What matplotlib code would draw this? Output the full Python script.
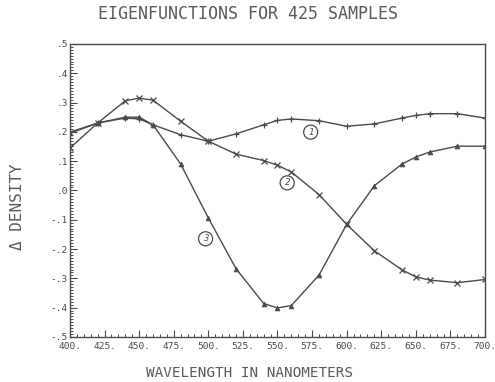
import matplotlib
matplotlib.use("Agg")
import matplotlib.pyplot as plt
from matplotlib.ticker import MultipleLocator, FixedLocator

wavelength = [400, 420, 440, 450, 460, 480, 500, 520, 540, 550, 560,
              580, 600, 620, 640, 650, 660, 680, 700]
eig1 = [0.199, 0.230, 0.247, 0.244, 0.224, 0.190, 0.168, 0.193, 0.224, 0.239,
        0.244, 0.238, 0.219, 0.227, 0.247, 0.256, 0.262, 0.262, 0.247]
eig2 = [0.145, 0.230, 0.306, 0.315, 0.308, 0.236, 0.168, 0.124, 0.102, 0.086,
        0.063, -0.014, -0.116, -0.206, -0.271, -0.295, -0.306, -0.315, -0.304]
eig3 = [0.195, 0.230, 0.250, 0.250, 0.224, 0.090, -0.094, -0.267, -0.386, -0.401,
        -0.393, -0.289, -0.116, 0.016, 0.090, 0.114, 0.131, 0.151, 0.151]

xticks = [400, 425, 450, 475, 500, 525, 550, 575, 600, 625, 650, 675, 700]
xticklabels = ["400.", "425.", "450.", "475.", "500.", "525.", "550.", "575.",
               "600.", "625.", "650.", "675.", "700."]
yticks = [-0.5, -0.4, -0.3, -0.2, -0.1, 0.0, 0.1, 0.2, 0.3, 0.4, 0.5]
yticklabels = ["-.5", "-.4", "-.3", "-.2", "-.1", ".0", ".1", ".2", ".3", ".4", ".5"]

title = "EIGENFUNCTIONS FOR 425 SAMPLES"
xlabel = "WAVELENGTH IN NANOMETERS"
ylabel = "Δ DENSITY"
curve_labels = ["1", "2", "3"]
label_pos = [(574, 0.199), (557, 0.026), (498, -0.165)]

C = "#4a4a4a"
FONT = "DejaVu Sans Mono"

fig = plt.figure(figsize=(4.95, 3.82), dpi=100)
ax = fig.add_axes([0.1414, 0.118, 0.8384, 0.767])

ax.plot(wavelength, eig1, color=C, lw=1.0, marker="+", ms=5, mew=0.9)
ax.plot(wavelength, eig2, color=C, lw=1.0, marker="x", ms=4.5, mew=0.9)
ax.plot(wavelength, eig3, color=C, lw=1.0, marker="^", ms=3.5, mew=0.5,
        mfc=C, mec=C)

for lab, (lx, ly) in zip(curve_labels, label_pos):
    ax.text(lx, ly, lab, fontsize=6.5, family=FONT, color=C, ha="center",
            va="center", style="italic",
            bbox=dict(boxstyle="circle,pad=0.28", fc="white", ec=C, lw=0.9))

ax.set_xlim(400, 700)
ax.set_ylim(-0.5, 0.5)
ax.xaxis.set_major_locator(FixedLocator(xticks))
ax.set_xticklabels(xticklabels)
ax.xaxis.set_minor_locator(MultipleLocator(5))
ax.yaxis.set_major_locator(FixedLocator(yticks))
ax.set_yticklabels(yticklabels)
ax.yaxis.set_minor_locator(MultipleLocator(0.01))

ax.tick_params(which="both", direction="in", color=C, labelcolor=C,
               top=False, right=False)
ax.tick_params(which="major", length=5, width=0.8, labelsize=6.8)
ax.tick_params(axis="x", which="major", pad=3.5)
ax.tick_params(axis="y", which="major", pad=1.5)
ax.tick_params(which="minor", length=2.5, width=0.7)
for lbl in ax.get_xticklabels() + ax.get_yticklabels():
    lbl.set_family(FONT)

for sp in ax.spines.values():
    sp.set_color(C)
    sp.set_linewidth(1.0)

fig.text(0.5, 0.963, title, ha="center", va="center", fontsize=12,
         family=FONT, color="#5a5a5a")
fig.text(0.505, 0.024, xlabel, ha="center", va="center", fontsize=10.3,
         family=FONT, color="#5a5a5a")
fig.text(0.036, 0.458, ylabel, ha="center", va="center", fontsize=11.5,
         family=FONT, color="#5a5a5a", rotation=90)

fig.savefig("out.png", dpi=100, facecolor="white")
